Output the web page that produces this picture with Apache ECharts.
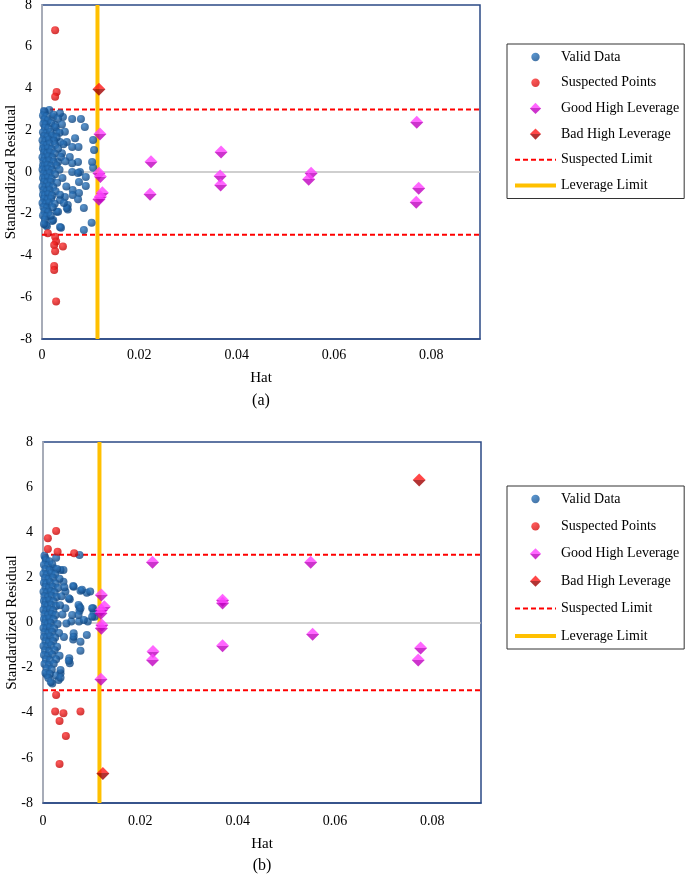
<!DOCTYPE html>
<html><head><meta charset="utf-8">
<script src="https://cdn.jsdelivr.net/npm/echarts@6/dist/echarts.min.js"></script>
<style>html,body{margin:0;padding:0;background:#fff}#c{width:685px;height:875px}</style>
</head><body><div id="c"></div>
<script>
// ---------- data ----------
const xMin = 0, xMax = 0.09, xStep = 0.02;
const yMin = -8, yMax = 8, yStep = 2;
const suspectedLimit = 3;
const leverageLimitA = 0.0114;
const leverageLimitB = 0.0116;
const legendNames = ['Valid Data','Suspected Points','Good High Leverage','Bad High Leverage','Suspected Limit','Leverage Limit'];
const panelLabels = ['(a)','(b)'];

const validA = [
 [0.0080,2.54],[0.0088,2.15],[0.0062,2.54],[0.0043,2.63],[0.0037,2.82],[0.0023,2.63],[0.0027,2.25],[0.0030,1.93],[0.0047,1.93],
 [0.0023,1.67],[0.0068,1.62],[0.0037,1.44],[0.0051,1.44],[0.0105,1.53],[0.0062,1.20],[0.0075,1.20],[0.0107,1.05],[0.0041,0.90],
 [0.0057,0.72],[0.0103,0.48],[0.0074,0.48],[0.0033,0.48],[0.0062,0.42],[0.0105,0.20],[0.0062,0.00],[0.0078,0.00],[0.0074,-0.05],
 [0.0090,-0.24],[0.0076,-0.48],[0.0090,-0.67],[0.0063,-0.86],[0.0076,-1.00],[0.0063,-1.10],[0.0047,-1.20],[0.0037,-1.34],[0.0008,-1.43],
 [0.0074,-1.30],[0.0053,-1.58],[0.0010,-1.82],[0.0030,-1.91],[0.0053,-1.80],[0.0051,-1.72],[0.0086,-1.73],[0.0023,-2.30],[0.0008,-2.54],
 [0.0037,-2.63],[0.0102,-2.43],[0.0086,-2.78],[0.0039,-2.67],[0.0021,-2.35],[0.0010,-2.60],[0.0033,-1.90],[0.0006,2.87],[0.0015,2.97],[0.0010,2.40],
 [0.0004,2.92],[0.0002,2.71],[0.0009,2.66],[0.0024,2.74],[0.0005,2.52],[0.0012,2.47],[0.0033,2.55],[0.0003,2.31],[0.0008,2.27],[0.0019,2.34],[0.0041,2.28],
 [0.0006,2.12],[0.0013,2.08],[0.0028,2.14],[0.0002,1.91],[0.0009,1.86],[0.0017,1.93],[0.0036,1.88],[0.0004,1.72],[0.0011,1.68],[0.0021,1.74],[0.0030,1.66],
 [0.0001,1.52],[0.0007,1.47],[0.0014,1.55],[0.0025,1.49],[0.0003,1.31],[0.0009,1.27],[0.0016,1.34],[0.0027,1.29],[0.0044,1.33],
 [0.0002,1.12],[0.0006,1.07],[0.0012,1.14],[0.0020,1.09],[0.0033,1.11],[0.0004,0.92],[0.0010,0.87],[0.0017,0.94],[0.0026,0.89],
 [0.0001,0.71],[0.0006,0.67],[0.0013,0.74],[0.0022,0.69],[0.0039,0.72],[0.0003,0.52],[0.0008,0.47],[0.0015,0.54],[0.0024,0.49],[0.0048,0.51],
 [0.0002,0.31],[0.0005,0.27],[0.0011,0.33],[0.0019,0.29],[0.0030,0.31],[0.0001,0.12],[0.0007,0.07],[0.0013,0.14],[0.0021,0.09],[0.0036,0.11],
 [0.0003,-0.08],[0.0009,-0.13],[0.0016,-0.06],[0.0027,-0.11],[0.0002,-0.29],[0.0006,-0.33],[0.0012,-0.27],[0.0020,-0.32],[0.0042,-0.29],
 [0.0004,-0.48],[0.0010,-0.53],[0.0018,-0.47],[0.0031,-0.52],[0.0001,-0.69],[0.0007,-0.73],[0.0014,-0.67],[0.0023,-0.72],[0.0050,-0.69],
 [0.0003,-0.88],[0.0009,-0.93],[0.0016,-0.87],[0.0028,-0.92],[0.0002,-1.09],[0.0006,-1.13],[0.0013,-1.07],[0.0021,-1.12],[0.0037,-1.09],
 [0.0004,-1.28],[0.0011,-1.33],[0.0019,-1.27],[0.0001,-1.49],[0.0008,-1.53],[0.0015,-1.47],[0.0026,-1.52],[0.0045,-1.49],
 [0.0003,-1.68],[0.0010,-1.73],[0.0022,-1.69],[0.0005,-1.88],[0.0013,-1.93],[0.0002,-2.08],[0.0009,-2.13],[0.0018,-2.09],[0.0006,-2.28],[0.0004,-2.49]
];
const suspectedA = [
 [0.0027,6.79],[0.0030,3.83],[0.0027,3.60],[0.0012,-2.93],[0.0027,-3.10],[0.0029,-3.33],[0.0025,-3.50],[0.0043,-3.57],
 [0.0027,-3.80],[0.0025,-4.50],[0.0025,-4.70],[0.0029,-6.20]
];
const goodA = [
 [0.0119,1.82],[0.0117,-0.06],[0.0120,-0.22],[0.0124,-0.99],[0.0120,-1.18],[0.0117,-1.31],[0.0224,0.49],[0.0222,-1.07],
 [0.0368,0.96],[0.0366,-0.19],[0.0367,-0.62],[0.0553,-0.06],[0.0548,-0.35],[0.0770,2.38],[0.0774,-0.78],[0.0769,-1.45]
];
const badA = [[0.0117,3.97]];

const validB = [
 [0.0075,2.99],[0.0042,2.33],[0.0027,2.87],[0.0062,1.62],[0.0077,1.41],[0.0090,1.32],[0.0055,1.03],[0.0075,0.70],[0.0075,0.52],
 [0.0103,0.63],[0.0104,0.43],[0.0092,0.04],[0.0106,0.26],[0.0058,0.04],[0.0074,0.04],[0.0090,-0.55],[0.0062,-0.75],[0.0077,-0.85],
 [0.0077,-1.25],[0.0054,-1.59],[0.0055,-1.81],[0.0036,-2.25],[0.0032,-2.55],[0.0019,-2.70],[0.0008,-2.33],[0.0036,-2.10],[0.0005,2.85],
 [0.0022,2.40],[0.0036,2.33],[0.0042,1.81],[0.0063,1.59],[0.0080,1.45],[0.0097,1.37],[0.0046,1.37],[0.0053,1.07],[0.0073,0.78],
 [0.0101,0.63],[0.0077,0.63],[0.0046,0.63],[0.0060,0.33],[0.0073,0.33],[0.0084,0.11],[0.0101,0.26],[0.0063,-0.48],[0.0063,-0.63],
 [0.0053,-1.70],[0.0026,-2.35],[0.0036,-2.45],
 [0.0003,2.96],[0.0006,2.76],[0.0013,2.72],[0.0002,2.56],[0.0010,2.52],[0.0019,2.58],[0.0005,2.36],[0.0014,2.31],[0.0029,2.37],
 [0.0001,2.16],[0.0008,2.12],[0.0017,2.18],[0.0025,2.13],[0.0004,1.96],[0.0011,1.92],[0.0021,1.98],[0.0034,1.94],
 [0.0002,1.76],[0.0007,1.72],[0.0015,1.78],[0.0026,1.73],[0.0005,1.56],[0.0012,1.52],[0.0020,1.58],[0.0031,1.53],[0.0044,1.56],
 [0.0001,1.36],[0.0008,1.32],[0.0016,1.38],[0.0024,1.33],[0.0003,1.16],[0.0010,1.12],[0.0018,1.18],[0.0028,1.13],[0.0038,1.16],
 [0.0002,0.96],[0.0006,0.92],[0.0013,0.98],[0.0022,0.93],[0.0004,0.76],[0.0009,0.72],[0.0017,0.78],[0.0027,0.73],[0.0035,0.76],
 [0.0001,0.56],[0.0007,0.52],[0.0014,0.58],[0.0021,0.53],[0.0003,0.36],[0.0010,0.32],[0.0018,0.38],[0.0026,0.33],[0.0040,0.36],
 [0.0002,0.16],[0.0006,0.12],[0.0013,0.18],[0.0022,0.13],[0.0004,-0.04],[0.0009,-0.08],[0.0016,-0.02],[0.0030,-0.07],[0.0048,-0.04],
 [0.0001,-0.24],[0.0007,-0.28],[0.0014,-0.22],[0.0023,-0.27],[0.0003,-0.44],[0.0011,-0.48],[0.0019,-0.42],[0.0033,-0.47],
 [0.0002,-0.64],[0.0008,-0.68],[0.0015,-0.62],[0.0025,-0.67],[0.0043,-0.64],[0.0005,-0.84],[0.0012,-0.88],[0.0021,-0.83],
 [0.0001,-1.04],[0.0009,-1.08],[0.0017,-1.02],[0.0029,-1.07],[0.0004,-1.24],[0.0013,-1.28],[0.0024,-1.23],
 [0.0002,-1.44],[0.0010,-1.48],[0.0019,-1.42],[0.0034,-1.47],[0.0006,-1.64],[0.0015,-1.68],[0.0027,-1.63],
 [0.0003,-1.84],[0.0012,-1.88],[0.0022,-1.83],[0.0008,-2.04],[0.0018,-2.08],[0.0005,-2.24],[0.0014,-2.28],[0.0011,-2.46],[0.0016,-2.64]
];
const suspectedB = [
 [0.0010,3.73],[0.0027,4.06],[0.0010,3.26],[0.0030,3.14],[0.0064,3.07],[0.0027,-3.21],[0.0025,-3.95],[0.0042,-4.02],
 [0.0034,-4.37],[0.0077,-3.95],[0.0047,-5.03],[0.0034,-6.27]
];
const goodB = [
 [0.0120,1.22],[0.0126,0.70],[0.0120,0.55],[0.0119,0.41],[0.0121,-0.11],[0.0120,-0.26],[0.0119,-2.52],[0.0225,2.67],
 [0.0226,-1.29],[0.0225,-1.66],[0.0369,0.99],[0.0369,0.86],[0.0369,-1.03],[0.0550,2.67],[0.0554,-0.52],[0.0776,-1.13],[0.0771,-1.66]
];
const badB = [[0.0123,-6.69],[0.0773,6.32]];

// ---------- styles ----------
const FONT = 'Liberation Serif';
const radial = (c0, c1) => ({type:'radial', x:0.38, y:0.32, r:0.75, colorStops:[{offset:0,color:c0},{offset:1,color:c1}]});
const linear = (c0, c1) => ({type:'linear', x:0, y:0, x2:0, y2:1, colorStops:[{offset:0,color:c0},{offset:0.5,color:c0},{offset:0.5,color:c1},{offset:1,color:c1}]});
const blueC = radial('#2f7bc4', '#0b3f78');
const redC = radial('#ff3030', '#c00000');
const magC = linear('#ff40ff', '#c000c0');
const badC = linear('#ff1a1a', '#a00000');
const navy = '#2B4A85';
const grids = [
  {left:42, top:5, width:438, height:334},
  {left:43, top:442, width:438, height:361}
];
const xNameGap = [32, 34];
const xLabelMargin = [9, 11];
const circleIcon = 'path://M0,0M20,20M4,10A6,6 0 1,0 16,10A6,6 0 1,0 4,10Z';
const diamondIcon = 'path://M0,0M20,20M10,2L18,10L10,18L2,10Z';
const hiddenSym = {color:'rgba(0,0,0,0)', borderWidth:0, opacity:0};

function panelSeries(i, valid, susp, good, bad, lev) {
  return [
    {name:legendNames[0], type:'scatter', xAxisIndex:i, yAxisIndex:i, data:valid, symbol:'circle', symbolSize:8, z:3,
     itemStyle:{color:blueC}, silent:true,
     markLine:{silent:true, symbol:'none', label:{show:false}, lineStyle:{color:'#BFBFBF', width:1.5, type:'solid'}, data:[{yAxis:0}], z:1}},
    {name:legendNames[1], type:'scatter', xAxisIndex:i, yAxisIndex:i, data:susp, symbol:'circle', symbolSize:8, z:3, itemStyle:{color:redC}},
    {name:legendNames[2], type:'scatter', xAxisIndex:i, yAxisIndex:i, data:good, symbol:'diamond', symbolSize:[13,13], z:4, itemStyle:{color:magC}},
    {name:legendNames[3], type:'scatter', xAxisIndex:i, yAxisIndex:i, data:bad, symbol:'diamond', symbolSize:[13,13], z:4, itemStyle:{color:badC}},
    {name:legendNames[4], type:'line', xAxisIndex:i, yAxisIndex:i, data:[[xMin,suspectedLimit],[xMax,suspectedLimit]], symbol:'none', showSymbol:false, z:2,
     lineStyle:{color:'#FF0000', width:2, type:[5,3]}, itemStyle:{color:'#FF0000'}},
    {name:legendNames[4], type:'line', xAxisIndex:i, yAxisIndex:i, data:[[xMin,-suspectedLimit],[xMax,-suspectedLimit]], symbol:'none', showSymbol:false, z:2,
     lineStyle:{color:'#FF0000', width:2, type:[5,3]}, itemStyle:{color:'#FF0000'}},
    {name:legendNames[5], type:'line', xAxisIndex:i, yAxisIndex:i, data:[[lev,yMin],[lev,yMax]], symbol:'none', showSymbol:false, z:2,
     lineStyle:{color:'#FFC000', width:4}, itemStyle:{color:'#FFC000'}}
  ];
}

function legendFor(top, gap) {
  return {
    orient:'vertical', left:507, top:top, itemWidth:41, itemHeight:14, itemGap:gap,
    padding:[6,5,6,6], borderColor:'#333', borderWidth:1, selectedMode:false,
    textStyle:{fontFamily:FONT, fontSize:14, color:'#000'},
    data:[
      {name:legendNames[0], icon:circleIcon},
      {name:legendNames[1], icon:circleIcon},
      {name:legendNames[2], icon:diamondIcon},
      {name:legendNames[3], icon:diamondIcon},
      {name:legendNames[4], itemStyle:hiddenSym, lineStyle:{color:'#FF0000', width:2, type:[5,3]}},
      {name:legendNames[5], itemStyle:hiddenSym, lineStyle:{color:'#FFC000', width:4}}
    ]
  };
}

const xAxes = grids.map((g, i) => ({
  type:'value', gridIndex:i, min:xMin, max:xMax, interval:xStep,
  name:'Hat', nameLocation:'middle', nameGap:xNameGap[i], nameMoveOverlap:false,
  nameTextStyle:{fontFamily:FONT, fontSize:15, color:'#000'},
  axisLine:{show:true, onZero:false, lineStyle:{color:navy, width:1.5}},
  axisTick:{show:false}, splitLine:{show:false},
  axisLabel:{fontFamily:FONT, fontSize:14, color:'#000', margin:xLabelMargin[i], showMaxLabel:false,
    formatter: v => String(Math.round(v * 100) / 100)}
}));
const yAxes = grids.map((g, i) => ({
  type:'value', gridIndex:i, min:yMin, max:yMax, interval:yStep,
  name:'Standardized Residual', nameLocation:'middle', nameGap:23, nameRotate:90, nameMoveOverlap:false,
  nameTextStyle:{fontFamily:FONT, fontSize:15, color:'#000'},
  axisLine:{show:true, onZero:false, lineStyle:{color:'#BFBFBF', width:1.5}},
  axisTick:{show:false}, splitLine:{show:false},
  axisLabel:{fontFamily:FONT, fontSize:14, color:'#000', margin:10}
}));

const chart = echarts.init(document.getElementById('c'), null, {renderer:'canvas'});
chart.setOption({
  backgroundColor:'#fff',
  animation:false,
  title:[
    {text:panelLabels[0], left:261, top:393, textAlign:'center', padding:0, textStyle:{fontFamily:FONT, fontSize:16, fontWeight:'normal', color:'#000'}},
    {text:panelLabels[1], left:262, top:858, textAlign:'center', padding:0, textStyle:{fontFamily:FONT, fontSize:16, fontWeight:'normal', color:'#000'}}
  ],
  grid: grids.map(g => Object.assign({show:true, containLabel:false, outerBoundsMode:'none', borderColor:navy, borderWidth:1.5, backgroundColor:'transparent'}, g)),
  legend:[legendFor(44, 11.7), legendFor(486, 13.4)],
  xAxis:xAxes,
  yAxis:yAxes,
  series:[].concat(
    panelSeries(0, validA, suspectedA, goodA, badA, leverageLimitA),
    panelSeries(1, validB, suspectedB, goodB, badB, leverageLimitB)
  )
});
</script>
</body></html>
